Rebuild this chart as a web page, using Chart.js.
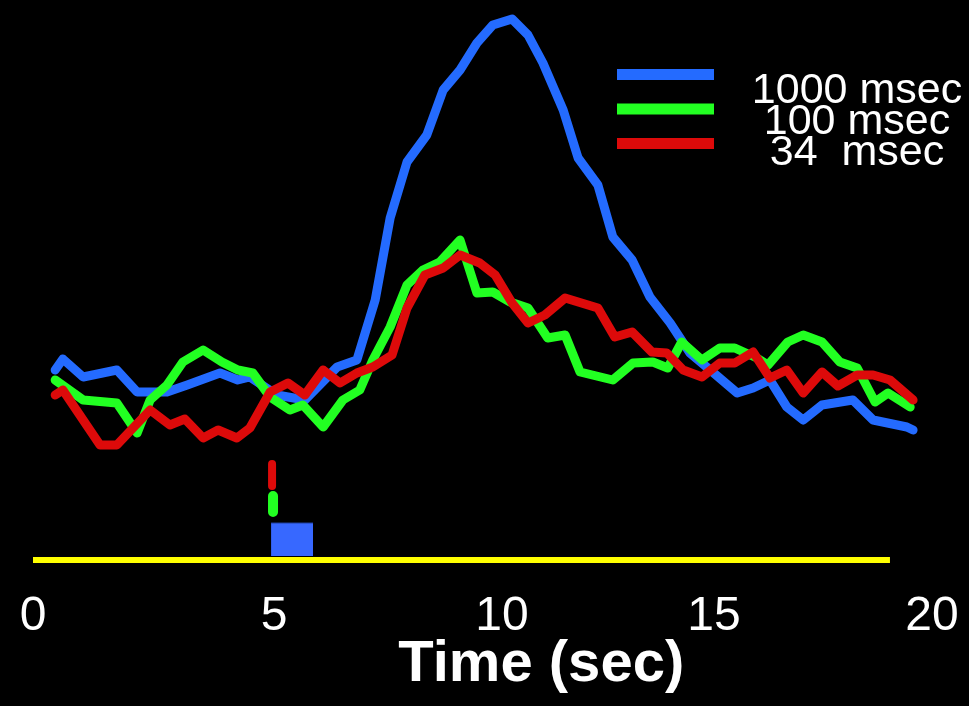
<!DOCTYPE html>
<html>
<head>
<meta charset="utf-8">
<script src="https://cdn.jsdelivr.net/npm/chart.js@4.4.1/dist/chart.umd.min.js"></script>
<style>
  html, body { margin: 0; padding: 0; background: #000; }
  canvas { display: block; }
</style>
</head>
<body>
<canvas id="curvas" width="969" height="706"></canvas>
<script>
// tiempos (s) y señal de cada condición
const blueTime = [0.46,0.62,1.04,1.74,2.16,2.78,3.20,3.88,4.25,4.50,5.06,5.64,6.31,6.72,7.10,7.41,7.76,8.17,8.51,8.86,9.21,9.54,9.94,10.27,10.58,11.00,11.31,11.72,12.03,12.43,12.80,13.22,13.63,14.05,14.61,14.94,15.29,15.64,15.98,16.37,17.01,17.43,18.13,18.26];
const blueSignal = [1.90,2.01,1.83,1.90,1.68,1.68,1.75,1.87,1.80,1.83,1.65,1.60,1.93,2.00,2.60,3.42,3.98,4.25,4.70,4.90,5.17,5.35,5.41,5.25,4.97,4.50,4.02,3.75,3.23,3.00,2.63,2.37,2.07,1.90,1.67,1.72,1.80,1.53,1.40,1.55,1.60,1.40,1.33,1.30];

const greenTime = [0.46,1.04,1.74,2.16,2.43,2.78,3.11,3.53,3.92,4.25,4.56,4.92,5.33,5.60,6.02,6.43,6.78,7.05,7.41,7.76,8.09,8.44,8.86,9.21,9.54,9.90,10.27,10.68,11.04,11.35,12.03,12.45,12.86,13.17,13.46,13.88,14.25,14.56,15.02,15.25,15.66,15.98,16.37,16.74,17.10,17.47,17.74,18.20];
const greenSignal = [1.80,1.60,1.57,1.27,1.60,1.75,1.98,2.10,1.98,1.90,1.87,1.63,1.50,1.55,1.33,1.60,1.70,2.00,2.33,2.75,2.90,2.98,3.20,2.67,2.68,2.58,2.52,2.22,2.25,1.88,1.80,1.97,1.98,1.92,2.18,2.00,2.12,2.12,2.02,1.95,2.18,2.25,2.18,1.98,1.92,1.58,1.67,1.53];

const redTime = [0.46,0.62,1.39,1.74,2.43,2.84,3.15,3.53,3.84,4.23,4.50,4.92,5.29,5.64,6.02,6.37,6.72,7.05,7.45,7.76,8.13,8.51,8.86,9.27,9.59,9.94,10.27,10.62,11.04,11.72,12.07,12.43,12.84,13.15,13.49,13.88,14.25,14.56,14.94,15.29,15.64,15.98,16.37,16.70,17.10,17.43,17.78,18.26];
const redSignal = [1.65,1.70,1.15,1.15,1.50,1.35,1.41,1.22,1.30,1.22,1.32,1.68,1.77,1.65,1.90,1.77,1.87,1.93,2.05,2.52,2.85,2.92,3.05,2.97,2.85,2.57,2.37,2.45,2.62,2.52,2.23,2.28,2.08,2.07,1.90,1.83,1.97,1.97,2.08,1.82,1.90,1.67,1.88,1.74,1.85,1.85,1.80,1.60];

// estímulos: 34, 100 y 1000 msec
const stimOn = [4.96, 4.98, 4.94];
const stimOff = [4.96, 4.98, 5.81];
const stimTop = [0.96, 0.64, 0.37];
const stimBottom = [0.74, 0.48, 0.04];
const baselineEnd = 17.78;

// eje x
const tickPos = [0, 5, 9.73, 14.13, 18.65];
const tickLabels = ["0", "5", "10", "15", "20"];

const FONT = '"Liberation Sans", Arial, Helvetica, sans-serif';
const toPts = (xs, ys) => xs.map((x, i) => ({ x: x, y: ys[i] }));

function serie(label, xs, ys, color, order) {
  return {
    label: label,
    data: toPts(xs, ys),
    borderColor: color,
    borderWidth: 9,
    borderJoinStyle: "round",
    borderCapStyle: "round",
    pointRadius: 0,
    tension: 0,
    fill: false,
    clip: false,
    order: order,
    enLeyenda: true,
  };
}

// leyenda propia: línea arriba, texto centrado a la derecha
const leyenda = {
  id: "leyenda",
  afterDraw(chart) {
    const ctx = chart.ctx;
    const items = chart.data.datasets.filter((d) => d.enLeyenda);
    ctx.save();
    items.forEach((d, i) => {
      const y = 74.5 + i * 34.5;
      ctx.strokeStyle = d.borderColor;
      ctx.lineWidth = 11;
      ctx.lineCap = "butt";
      ctx.beginPath();
      ctx.moveTo(617, y);
      ctx.lineTo(714, y);
      ctx.stroke();
      ctx.fillStyle = "#fff";
      ctx.font = "43px " + FONT;
      ctx.textAlign = "center";
      ctx.textBaseline = "alphabetic";
      ctx.fillText(d.label, 857, 103 + i * 31);
    });
    ctx.restore();
  },
};

const ctx = document.getElementById("curvas").getContext("2d");

new Chart(ctx, {
  type: "line",
  data: {
    datasets: [
      serie("1000 msec", blueTime, blueSignal, "#246bff", 3),
      serie("100 msec", greenTime, greenSignal, "#22ff22", 2),
      serie("34  msec", redTime, redSignal, "#dd0a0a", 1),
      {
        data: [{ x: stimOn[0], y: stimTop[0] }, { x: stimOff[0], y: stimBottom[0] }],
        borderColor: "#dd0a0a", borderWidth: 8, borderCapStyle: "round",
        pointRadius: 0, order: 5, clip: false,
      },
      {
        data: [{ x: stimOn[1], y: stimTop[1] }, { x: stimOff[1], y: stimBottom[1] }],
        borderColor: "#22ff22", borderWidth: 10, borderCapStyle: "round",
        pointRadius: 0, order: 5, clip: false,
      },
      {
        data: [{ x: stimOn[2], y: stimTop[2] }, { x: stimOff[2], y: stimTop[2] }],
        borderColor: "#1f3f9e", borderWidth: 1,
        backgroundColor: "#3768ff",
        fill: { value: stimBottom[2] },
        pointRadius: 0, order: 5, clip: false,
      },
      {
        data: [{ x: 0, y: 0 }, { x: baselineEnd, y: 0 }],
        borderColor: "#ffff00", borderWidth: 6, borderCapStyle: "butt",
        pointRadius: 0, order: 6, clip: false,
      },
    ],
  },
  options: {
    responsive: false,
    animation: false,
    layout: { padding: { left: 33, right: 0, top: 0, bottom: 0 } },
    plugins: {
      legend: { display: false },
      tooltip: { enabled: false },
    },
    scales: {
      x: {
        type: "linear",
        min: 0,
        max: 19.42,
        grid: { display: false, drawTicks: false },
        border: { display: false },
        afterBuildTicks: (scale) => {
          scale.ticks = tickPos.map((v) => ({ value: v }));
        },
        afterFit: (scale) => {
          scale.height = 126;
        },
        ticks: {
          autoSkip: false,
          maxRotation: 0,
          padding: 8,
          color: "#fff",
          font: { family: FONT, size: 48 },
          callback: (val, i) => tickLabels[i],
        },
        title: {
          display: true,
          text: "\u00a0\u00a0\u00a0\u00a0\u00a0Time (sec)",
          color: "#fff",
          font: { family: FONT, size: 58, weight: "bold", lineHeight: 1.2 },
          padding: { top: 0, bottom: 6 },
        },
      },
      y: {
        display: false,
        min: -0.2,
        max: 5.6,
      },
    },
  },
  plugins: [leyenda],
});
</script>
</body>
</html>
